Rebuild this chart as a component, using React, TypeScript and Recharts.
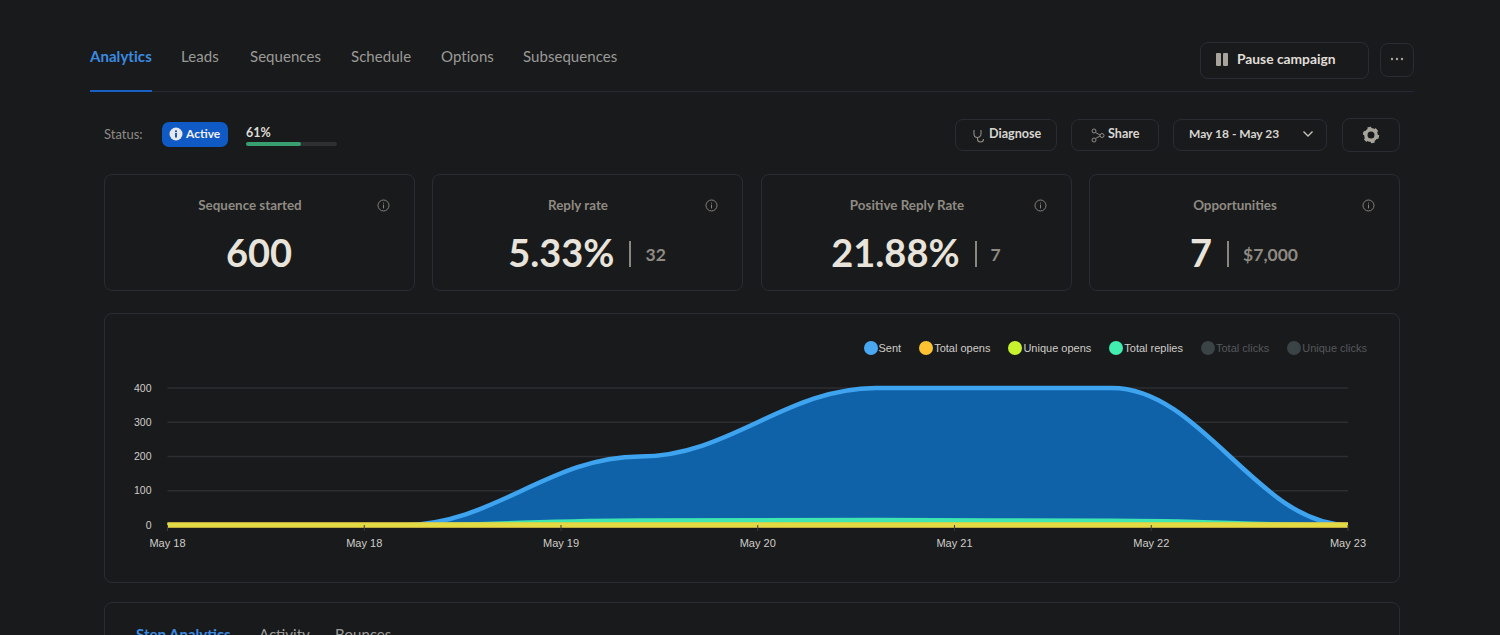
import React from "react";
import { AreaChart, Area, XAxis, YAxis, CartesianGrid, Legend } from "recharts";

const days = [18, 19, 20, 21, 22, 23];
const sent = [0, 0, 200, 400, 400, 0];
const totalOpens = [0, 0, 0, 0, 0, 0];
const uniqueOpens = [0, 0, 0, 0, 0, 0];
const totalReplies = [0, 0, 14, 15, 13, 0];

const xTicks = [18, 18.8333, 19.6667, 20.5, 21.3333, 22.1667, 23];
const xTickLabels = ["May 18", "May 18", "May 19", "May 20", "May 21", "May 22", "May 23"];
const yTicks = [0, 100, 200, 300, 400];

const legendNames = ["Sent", "Total opens", "Unique opens", "Total replies", "Total clicks", "Unique clicks"];
const legendColors = ["#4aa8f2", "#fcc232", "#c6f22e", "#41eeb0", "#3a4346", "#3a4346"];
const legendTextColors = ["#cfcdc8", "#cfcdc8", "#cfcdc8", "#cfcdc8", "#55585a", "#55585a"];

const tabs = ["Analytics", "Leads", "Sequences", "Schedule", "Options", "Subsequences"];
const tabX = [90, 181, 250, 351, 441, 523];

const statTitles = ["Sequence started", "Reply rate", "Positive Reply Rate", "Opportunities"];
const statValues = ["600", "5.33%", "21.88%", "7"];
const statExtras = ["", "32", "7", "$7,000"];
const statLeft = [104, 432, 761, 1089];

const chartData = days.map((day, i) => ({
  day,
  sent: sent[i],
  totalOpens: totalOpens[i],
  uniqueOpens: uniqueOpens[i],
  totalReplies: totalReplies[i],
}));

const UI_FONT = "Lato, 'Noto Sans', sans-serif";
const BORDER = "#2a2c35";

// like curveBumpX but with shorter handles, the reference's slopes are straighter
const HANDLE = 0.38;
function softBump(context: any) {
  let line = NaN;
  let point = 0;
  let x0 = 0;
  let y0 = 0;
  return {
    areaStart() {
      line = 0;
    },
    areaEnd() {
      line = NaN;
    },
    lineStart() {
      point = 0;
    },
    lineEnd() {
      if (line || (line !== 0 && point === 1)) context.closePath();
      line = 1 - line;
    },
    point(xv: number, yv: number) {
      const x = +xv;
      const y = +yv;
      if (point === 0) {
        point = 1;
        if (line) context.lineTo(x, y);
        else context.moveTo(x, y);
      } else {
        const dx = x - x0;
        context.bezierCurveTo(x0 + HANDLE * dx, y0, x - HANDLE * dx, y, x, y);
      }
      x0 = x;
      y0 = y;
    },
  };
}

function Txt({ x, y, size, color, weight = 400, center, right, spacing, children }: any) {
  const tx = center ? "-50%" : right ? "-100%" : "0";
  return (
    <div
      style={{
        position: "absolute",
        left: x,
        top: y,
        transform: `translate(${tx}, -50%)`,
        fontSize: size,
        color,
        fontWeight: weight,
        letterSpacing: spacing,
        whiteSpace: "nowrap",
        lineHeight: 1,
      }}
    >
      {children}
    </div>
  );
}

function Box({ x, y, w, h, r = 8, children }: any) {
  return (
    <div
      style={{
        position: "absolute",
        left: x,
        top: y,
        width: w,
        height: h,
        boxSizing: "border-box",
        border: `1px solid ${BORDER}`,
        borderRadius: r,
      }}
    >
      {children}
    </div>
  );
}

function InfoIcon({ x, y }: any) {
  return (
    <svg style={{ position: "absolute", left: x, top: y }} width="13" height="13" viewBox="0 0 13 13">
      <circle cx="6.5" cy="6.5" r="5.5" fill="none" stroke="#85817a" strokeWidth="1" />
      <rect x="6" y="5.6" width="1" height="3.8" fill="#85817a" />
      <rect x="6" y="3.6" width="1" height="1" fill="#85817a" />
    </svg>
  );
}

function ChartLegend() {
  return (
    <div
      style={{
        display: "flex",
        justifyContent: "flex-end",
        fontFamily: "'Liberation Sans', Arial, sans-serif",
        fontSize: 11,
      }}
    >
      {legendNames.map((name, i) => (
        <div key={name} style={{ display: "flex", alignItems: "center", marginLeft: 18 }}>
          <span
            style={{
              display: "inline-block",
              width: 14,
              height: 14,
              borderRadius: 7,
              background: legendColors[i],
              marginRight: 1,
            }}
          />
          <span style={{ color: legendTextColors[i] }}>{name}</span>
        </div>
      ))}
    </div>
  );
}

function Header() {
  return (
    <>
      {tabs.map((tab, i) => (
        <Txt key={tab} x={tabX[i]} y={56} size={15} color={i === 0 ? "#3b8ae0" : "#9b9a97"} weight={i === 0 ? 700 : 400} spacing={0.05}>
          {tab}
        </Txt>
      ))}
      <div style={{ position: "absolute", left: 90, top: 90.5, width: 1324, height: 1.5, background: "#272936" }} />
      <div style={{ position: "absolute", left: 90, top: 90, width: 62, height: 2, background: "#1a5fc4" }} />

      <Box x={1200} y={42} w={169} h={37} />
      <div style={{ position: "absolute", left: 1216, top: 53, width: 5, height: 13, background: "#a8a49c", borderRadius: 1 }} />
      <div style={{ position: "absolute", left: 1223, top: 53, width: 5, height: 13, background: "#a8a49c", borderRadius: 1 }} />
      <Txt x={1237} y={59} size={13.8} color="#e0ded8" weight={700}>Pause campaign</Txt>
      <Box x={1380} y={43} w={34} h={34} />
      <svg style={{ position: "absolute", left: 1390, top: 57 }} width="14" height="4" viewBox="0 0 14 4">
        <circle cx="2" cy="2" r="1.2" fill="#a8a49c" />
        <circle cx="7" cy="2" r="1.2" fill="#a8a49c" />
        <circle cx="12" cy="2" r="1.2" fill="#a8a49c" />
      </svg>

      <Txt x={104} y={134} size={13} color="#8f8c86">Status:</Txt>
      <div style={{ position: "absolute", left: 162, top: 122, width: 66, height: 25, background: "#0f5ac4", borderRadius: 7 }} />
      <svg style={{ position: "absolute", left: 169, top: 127 }} width="14" height="14" viewBox="0 0 14 14">
        <circle cx="7" cy="7" r="6.5" fill="#e8e8e8" />
        <rect x="6" y="6" width="2" height="4.5" fill="#0f5ac4" />
        <rect x="6" y="3.4" width="2" height="1.8" fill="#0f5ac4" />
      </svg>
      <Txt x={186} y={134} size={12} color="#f0f0f0" weight={700}>Active</Txt>
      <Txt x={246} y={133} size={12.5} color="#dedcd6" weight={700}>61%</Txt>
      <div style={{ position: "absolute", left: 246, top: 142, width: 91, height: 4, background: "#2e3032", borderRadius: 2 }} />
      <div style={{ position: "absolute", left: 246, top: 142, width: 55, height: 4, background: "#38a070", borderRadius: 2 }} />

      <Box x={955} y={119} w={102} h={32} />
      <svg style={{ position: "absolute", left: 972, top: 128 }} width="14" height="15" viewBox="0 0 14 15">
        <path d="M2 2v4a3.5 3.5 0 0 0 7 0V2M5.500 9.500v1.500a3 3 0 0 0 6 0" fill="none" stroke="#8f8c86" strokeWidth="1.100" />
      </svg>
      <Txt x={989} y={134} size={12.6} color="#d8d6d0" weight={700}>Diagnose</Txt>
      <Box x={1071} y={119} w={88} h={32} />
      <svg style={{ position: "absolute", left: 1091, top: 128 }} width="14" height="15" viewBox="0 0 14 15">
        <circle cx="3" cy="3" r="2" fill="none" stroke="#8f8c86" />
        <circle cx="3" cy="12" r="2" fill="none" stroke="#8f8c86" />
        <circle cx="11" cy="7.500" r="2" fill="none" stroke="#8f8c86" />
        <path d="M4.500 4.500L9 7M4.500 10.500L9 8" fill="none" stroke="#8f8c86" />
      </svg>
      <Txt x={1108} y={134} size={12.6} color="#d8d6d0" weight={700}>Share</Txt>
      <Box x={1173} y={119} w={154} h={32} />
      <Txt x={1189} y={134} size={12} color="#d8d6d0" weight={700}>May 18 - May 23</Txt>
      <svg style={{ position: "absolute", left: 1302, top: 130 }} width="12" height="8" viewBox="0 0 12 8">
        <path d="M1.500 1.500L6 6l4.500-4.500" fill="none" stroke="#c8c6c0" strokeWidth="1.300" />
      </svg>
      <Box x={1342} y={118} w={58} h={34} />
      <svg style={{ position: "absolute", left: 1362, top: 126 }} width="18" height="18" viewBox="0 0 18 18">
        <circle cx="9" cy="9" r="5.2" fill="none" stroke="#a8a49c" strokeWidth="3.400" />
        <circle cx="9" cy="9" r="7.2" fill="none" stroke="#a8a49c" strokeWidth="2" strokeDasharray="3.800 3.740" />
      </svg>
    </>
  );
}

function StatCards() {
  return (
    <>
      {statTitles.map((title, i) => {
        const left = statLeft[i];
        const extra = statExtras[i];
        return (
          <React.Fragment key={title}>
            <Box x={left} y={174} w={311} h={117} />
            <Txt x={left + 146} y={206} size={13.4} color="#8f8b82" weight={700} center>{title}</Txt>
            <InfoIcon x={left + 273} y={199} />
            <div
              style={{
                position: "absolute",
                left,
                top: 228,
                width: 310,
                height: 48,
                display: "flex",
                alignItems: "center",
                justifyContent: "center",
              }}
            >
              <span style={{ fontSize: 38, fontWeight: 700, color: "#e8e4db", lineHeight: 1 }}>{statValues[i]}</span>
              {extra && <span style={{ width: 2, height: 26, background: "#8a877f", margin: "3px 14px 0 15px" }} />}
              {extra && <span style={{ fontSize: 17.5, fontWeight: 700, color: "#8f8b82", marginTop: 5 }}>{extra}</span>}
            </div>
          </React.Fragment>
        );
      })}
    </>
  );
}

function SentChart() {
  return (
    <div style={{ position: "absolute", left: 105, top: 314 }}>
      <AreaChart
        width={1294}
        height={268}
        data={chartData}
        margin={{ top: 60, right: 51, bottom: 0, left: 0 }}
        style={{ fontFamily: "'Liberation Sans', Arial, sans-serif" }}
      >
        <CartesianGrid horizontal vertical={false} stroke="#2c2e31" strokeWidth={1.5} />
        <XAxis
          dataKey="day"
          type="number"
          domain={[18, 23]}
          ticks={xTicks}
          interval={0}
          height={57}
          tickFormatter={(_v: number, i: number) => xTickLabels[i]}
          tick={{ fontSize: 11, fill: "#cfcdc8" }}
          tickLine={{ stroke: "#3a3c3f" }}
          tickSize={6}
          tickMargin={8}
          axisLine={false}
        />
        <YAxis
          type="number"
          domain={[0, 400]}
          ticks={yTicks}
          width={62.5}
          tick={{ fontSize: 10.5, fill: "#cfcdc8" }}
          tickLine={false}
          tickMargin={10}
          axisLine={false}
        />
        <Legend
          content={<ChartLegend />}
          verticalAlign="top"
          wrapperStyle={{ top: 27, left: 0, right: 32, width: "auto" }}
        />
        <Area type={softBump as any} dataKey="sent" stroke="#3fa4ef" strokeWidth={4.5} fill="#1062a8" fillOpacity={1} dot={false} activeDot={false} isAnimationActive={false} />
        <Area type={softBump as any} dataKey="totalReplies" stroke="#3fe6b0" strokeWidth={4} fill="#3fe6b0" fillOpacity={1} dot={false} activeDot={false} isAnimationActive={false} />
        <Area type={softBump as any} dataKey="totalOpens" stroke="#f2cf3a" strokeWidth={5.5} fill="#f2cf3a" fillOpacity={1} dot={false} activeDot={false} isAnimationActive={false} />
        <Area type={softBump as any} dataKey="uniqueOpens" stroke="#d6e24a" strokeWidth={3} fill="#d6e24a" fillOpacity={0.5} strokeOpacity={0.7} dot={false} activeDot={false} isAnimationActive={false} />
      </AreaChart>
    </div>
  );
}

export default function App() {
  return (
    <div
      style={{
        position: "fixed",
        left: 0,
        top: 0,
        width: 1500,
        height: 635,
        overflow: "hidden",
        background: "#191a1c",
        fontFamily: UI_FONT,
      }}
    >
      <Header />
      <StatCards />
      <Box x={104} y={313} w={1296} h={270} />
      <SentChart />
      <Box x={104} y={602} w={1296} h={80} />
      <Txt x={136} y={634} size={15} color="#3b8ae0" weight={700}>Step Analytics</Txt>
      <Txt x={259} y={634} size={15} color="#9b9a97">Activity</Txt>
      <Txt x={335} y={634} size={15} color="#9b9a97">Bounces</Txt>
    </div>
  );
}
